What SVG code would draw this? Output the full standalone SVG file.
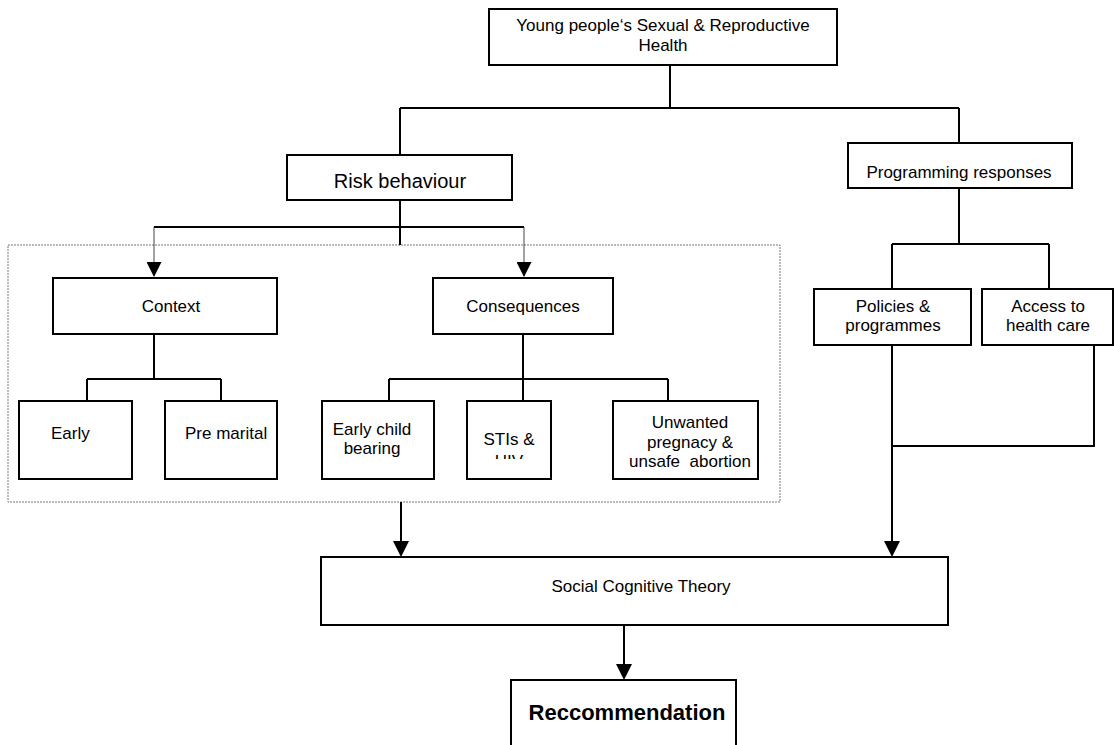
<svg xmlns="http://www.w3.org/2000/svg" width="1114" height="745" viewBox="0 0 1114 745">
<style>
.box{fill:#fff;stroke:#000;stroke-width:2}
.t{font-family:"Liberation Sans",Arial,sans-serif;font-size:17px;fill:#000}
.m{text-anchor:middle}
.c{fill:none;stroke:#000;stroke-width:2}
.thin{fill:none;stroke:#444;stroke-width:1}
</style>
<defs>
<marker id="ah" markerUnits="userSpaceOnUse" markerWidth="16" markerHeight="16" refX="14" refY="8" orient="auto">
<path d="M0,0 L16,8 L0,16 z" fill="#000"/>
</marker>
<marker id="ahs" markerUnits="userSpaceOnUse" markerWidth="15" markerHeight="15" refX="14" refY="7.5" orient="auto">
<path d="M0,0 L15,7.5 L0,15 z" fill="#000"/>
</marker>
<clipPath id="stiClip"><rect x="467" y="401" width="84" height="58"/></clipPath>
</defs>
<rect x="8" y="245" width="772" height="257" fill="none" stroke="#777" stroke-width="1" stroke-dasharray="2,1"/>
<g id="connectors">
<path class="c" d="M670 65 V108 M400 108 H959 M400 108 V155 M959 108 V143 M400 200 V245 M154 227 H524"/>
<path class="thin" d="M154 227 V276" marker-end="url(#ahs)"/>
<path class="thin" d="M524 227 V276" marker-end="url(#ahs)"/>
<path class="c" d="M154 334 V379 M87 379 H221 M87 379 V401 M221 379 V401"/>
<path class="c" d="M523 334 V401 M389 379 H668 M389 379 V401 M668 379 V401"/>
<path class="c" d="M959 188 V244 M892 244 H1049 M892 244 V289 M1049 244 V289"/>
<path class="c" d="M1094 345 V446 H892"/>
<path class="c" d="M892 345 V555" marker-end="url(#ah)"/>
<path class="c" d="M401 502 V555" marker-end="url(#ah)"/>
<path class="c" d="M624 625 V678" marker-end="url(#ah)"/>
</g>
<g id="n-top">
<rect class="box" x="489" y="9" width="348" height="56"/>
<text class="t m" x="663" y="31">Young people‘s Sexual &amp; Reproductive</text>
<text class="t m" x="663" y="51">Health</text>
</g>
<g id="n-risk">
<rect class="box" x="287" y="155" width="225" height="45"/>
<text class="t m" x="400" y="188" style="font-size:20px">Risk behaviour</text>
</g>
<g id="n-prog">
<rect class="box" x="848" y="143" width="224" height="45"/>
<text class="t m" x="959" y="178">Programming responses</text>
</g>
<g id="n-context">
<rect class="box" x="53" y="278" width="224" height="56"/>
<text class="t m" x="171" y="312">Context</text>
</g>
<g id="n-cons">
<rect class="box" x="433" y="278" width="180" height="56"/>
<text class="t m" x="523" y="312">Consequences</text>
</g>
<g id="n-early">
<rect class="box" x="19" y="401" width="113" height="78"/>
<text class="t" x="51" y="439">Early</text>
</g>
<g id="n-premarital">
<rect class="box" x="165" y="401" width="112" height="78"/>
<text class="t" x="185" y="439">Pre marital</text>
</g>
<g id="n-earlychild">
<rect class="box" x="322" y="401" width="112" height="78"/>
<text class="t m" x="372" y="435">Early child</text>
<text class="t m" x="372" y="454">bearing</text>
</g>
<g id="n-sti">
<rect class="box" x="467" y="401" width="84" height="78"/>
<g clip-path="url(#stiClip)">
<text class="t m" x="509" y="445">STIs &amp;</text>
<text class="t m" x="509" y="467">HIV</text>
</g>
</g>
<g id="n-unwanted">
<rect class="box" x="613" y="401" width="145" height="78"/>
<text class="t m" x="690" y="428">Unwanted</text>
<text class="t m" x="690" y="448">pregnacy &amp;</text>
<text class="t m" x="690" y="467" style="white-space:pre">unsafe  abortion</text>
</g>
<g id="n-policies">
<rect class="box" x="814" y="289" width="157" height="56"/>
<text class="t m" x="893" y="312">Policies &amp;</text>
<text class="t m" x="893" y="331">programmes</text>
</g>
<g id="n-access">
<rect class="box" x="982" y="289" width="131" height="56"/>
<text class="t m" x="1048" y="312">Access to</text>
<text class="t m" x="1048" y="331">health care</text>
</g>
<g id="n-sct">
<rect class="box" x="321" y="557" width="627" height="68"/>
<text class="t m" x="641" y="592">Social Cognitive Theory</text>
</g>
<g id="n-rec">
<rect class="box" x="511" y="680" width="225" height="80"/>
<text class="t m" x="627" y="720" style="font-size:22px;font-weight:bold">Reccommendation</text>
</g>
</svg>
